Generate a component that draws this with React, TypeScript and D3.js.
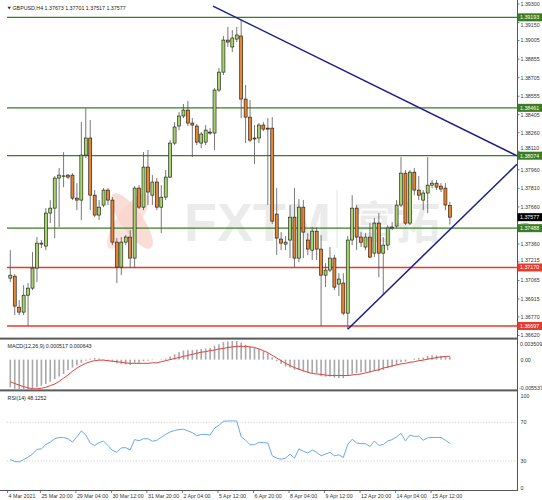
import React from 'react';
import * as d3 from 'd3';

// ---------- DATA (GBPUSD H4) ----------
const opens = [1.37084,1.37100,1.36849,1.36809,1.36946,1.37003,1.37165,1.37359,1.37343,1.37610,
1.37650,1.37893,1.37909,1.37917,1.37917,1.37731,1.37715,1.38079,1.38217,1.37755,
1.37594,1.37675,1.37796,1.37715,1.37375,1.37173,1.37375,1.37416,1.37246,1.37812,
1.37658,1.37982,1.37755,1.37861,1.37658,1.37739,1.37901,1.38176,1.38314,1.38395,
1.38443,1.38338,1.38314,1.38176,1.38184,1.38265,1.38257,1.38605,1.38750,1.39009,
1.38953,1.39017,1.39042,1.38532,1.38386,1.38217,1.38217,1.38322,1.38297,1.38297,
1.37602,1.37400,1.37359,1.37392,1.37577,1.37246,1.37658,1.37392,1.37310,1.37464,
1.37319,1.37108,1.37149,1.37246,1.37036,1.37044,1.36801,1.37392,1.37650,1.37416,
1.37335,1.37416,1.37286,1.37529,1.37286,1.37351,1.37489,1.37505,1.37675,1.37933,
1.37529,1.37941,1.37796,1.37715,1.37772,1.37836,1.37852,1.37828,1.37812,1.37673];
const highs = [1.37310,1.37116,1.36906,1.37027,1.37044,1.37294,1.37416,1.37392,1.37650,1.37715,
1.37909,1.37974,1.38103,1.37925,1.37933,1.37852,1.38346,1.38459,1.38362,1.37796,
1.37715,1.37812,1.37812,1.37739,1.37408,1.37416,1.37432,1.37472,1.37828,1.37836,
1.38103,1.38120,1.37917,1.37893,1.37836,1.37958,1.38200,1.38346,1.38427,1.38492,
1.38516,1.38378,1.38330,1.38265,1.38322,1.38297,1.38621,1.38783,1.39042,1.39115,
1.39090,1.39115,1.39171,1.38645,1.38524,1.38322,1.38338,1.38346,1.38378,1.38386,
1.37812,1.37456,1.37424,1.37675,1.37812,1.37723,1.37715,1.37448,1.37497,1.37497,
1.37432,1.37205,1.37335,1.37270,1.37124,1.37124,1.37424,1.37755,1.37675,1.37456,
1.37448,1.37529,1.37569,1.37610,1.37416,1.37513,1.37537,1.37715,1.38063,1.37958,
1.37958,1.37974,1.37909,1.37796,1.38063,1.37877,1.37877,1.37852,1.37852,1.37701];
const lows = [1.37052,1.36785,1.36785,1.36785,1.36697,1.36987,1.37052,1.37327,1.37310,1.37529,
1.37408,1.37497,1.37820,1.37885,1.37715,1.37634,1.37553,1.38055,1.37634,1.37577,
1.37553,1.37658,1.37675,1.37351,1.37044,1.37108,1.37351,1.37165,1.37165,1.37642,
1.37634,1.37675,1.37675,1.37634,1.37448,1.37715,1.37893,1.38160,1.38281,1.38378,
1.38314,1.38063,1.38160,1.38136,1.38160,1.38241,1.38120,1.38589,1.38726,1.38953,
1.38912,1.38993,1.38378,1.38176,1.38184,1.38006,1.38176,1.38273,1.37675,1.37521,
1.37270,1.37310,1.37310,1.37246,1.37173,1.37213,1.37246,1.37270,1.37230,1.37230,
1.36697,1.37011,1.37132,1.36987,1.36939,1.36785,1.36671,1.37351,1.37310,1.37335,
1.37310,1.37246,1.37254,1.37092,1.36946,1.37310,1.37472,1.37489,1.37658,1.37513,
1.37513,1.37755,1.37715,1.37634,1.37610,1.37812,1.37796,1.37780,1.37634,1.37517];
const closes = [1.37108,1.36858,1.36809,1.36946,1.37003,1.37165,1.37367,1.37367,1.37610,1.37650,
1.37893,1.37917,1.37911,1.37901,1.37731,1.37715,1.38079,1.38217,1.37755,1.37594,
1.37658,1.37796,1.37715,1.37375,1.37173,1.37375,1.37416,1.37246,1.37812,1.37658,
1.37982,1.37780,1.37861,1.37658,1.37739,1.37901,1.38176,1.38306,1.38395,1.38443,
1.38338,1.38322,1.38184,1.38249,1.38281,1.38257,1.38605,1.38750,1.39009,1.38993,
1.39026,1.39050,1.38532,1.38386,1.38200,1.38209,1.38322,1.38289,1.38289,1.37545,
1.37408,1.37367,1.37375,1.37577,1.37246,1.37658,1.37456,1.37319,1.37464,1.37319,
1.37108,1.37149,1.37246,1.37011,1.37076,1.36801,1.37392,1.37650,1.37416,1.37375,
1.37416,1.37254,1.37529,1.37286,1.37351,1.37489,1.37497,1.37675,1.37933,1.37529,
1.37941,1.37796,1.37755,1.37772,1.37836,1.37852,1.37820,1.37804,1.37675,1.37577];

const macdMain = [-0.0052,-0.0055,-0.0058,-0.0060,-0.0060,-0.0057,-0.0052,-0.0049,-0.0046,-0.0042,
-0.0037,-0.0032,-0.0027,-0.0020,-0.0015,-0.0011,-0.0006,-0.0002,0.0002,0.0003,
0.0002,0.0001,-0.0002,-0.0004,-0.0007,-0.0008,-0.0009,-0.0010,-0.0006,-0.0006,
-0.0003,-0.0002,-0.0001,0.0000,-0.0001,0.0002,0.0006,0.0010,0.0014,0.0017,
0.0018,0.0018,0.0019,0.0020,0.0021,0.0022,0.0026,0.0029,0.0033,0.0034,
0.0035,0.0035,0.0032,0.0028,0.0025,0.0022,0.0020,0.0016,0.0012,0.0004,
-0.0003,-0.0008,-0.0013,-0.0015,-0.0019,-0.0020,-0.0022,-0.0024,-0.0025,-0.0026,
-0.0031,-0.0032,-0.0032,-0.0034,-0.0035,-0.0035,-0.0031,-0.0027,-0.0025,-0.0024,
-0.0023,-0.0024,-0.0021,-0.0022,-0.0019,-0.0016,-0.0013,-0.0010,-0.0005,-0.0004,
0.0000,0.0002,0.0003,0.0004,0.0007,0.0008,0.0008,0.0007,0.0006,0.000517];
const macdSignal = [-0.0042,-0.0045,-0.0048,-0.0051,-0.0053,-0.0055,-0.0055,-0.0054,-0.0052,-0.0049,
-0.0046,-0.0041,-0.0035,-0.0029,-0.0022,-0.0016,-0.0011,-0.0007,-0.0004,-0.0002,
-0.0001,-0.0001,-0.0002,-0.0003,-0.0004,-0.0005,-0.0006,-0.0007,-0.0007,-0.0007,
-0.0007,-0.0007,-0.0006,-0.0006,-0.0004,-0.0002,0.0000,0.0002,0.0004,0.0006,
0.0008,0.0010,0.0012,0.0014,0.0015,0.0017,0.0018,0.0020,0.0021,0.0023,
0.0024,0.0025,0.0025,0.0025,0.0024,0.0023,0.0020,0.0017,0.0013,0.0008,
0.0003,-0.0002,-0.0007,-0.0011,-0.0015,-0.0018,-0.0021,-0.0024,-0.0026,-0.0027,
-0.0028,-0.0029,-0.0030,-0.0030,-0.0030,-0.0030,-0.0030,-0.0029,-0.0028,-0.0027,
-0.0025,-0.0023,-0.0021,-0.0019,-0.0016,-0.0014,-0.0012,-0.0010,-0.0008,-0.0007,
-0.0005,-0.0004,-0.0002,-0.0001,0.0001,0.0002,0.0004,0.0005,0.0006,0.000643];
const rsiValues = [31.5,29.5,29.0,31.5,34.0,37.0,42.0,42.5,47.0,49.5,
53.0,54.3,54.3,53.0,49.6,55.0,61.1,57.0,48.5,46.0,
49.0,50.4,46.1,41.0,39.0,43.5,43.8,41.4,52.1,51.0,
53.0,53.0,50.4,51.4,54.5,57.5,60.0,61.5,62.5,62.9,
61.1,59.3,56.1,57.5,57.5,56.8,63.9,67.0,71.0,71.4,
71.4,71.4,55.0,51.4,46.8,46.8,49.3,49.0,48.6,35.4,
32.9,31.8,32.9,37.1,32.9,42.5,40.0,38.2,41.4,38.9,
35.4,37.1,38.9,35.4,36.4,33.6,47.1,52.5,48.6,47.9,
47.9,45.0,50.7,46.1,47.1,50.7,52.1,55.0,58.6,50.7,
56.8,55.4,55.7,51.4,53.9,54.3,54.3,54.3,51.4,48.1252];

const priceTicks = [1.39300,1.39150,1.39005,1.38855,1.38705,1.38555,1.38405,1.38260,1.38110,
1.37960,1.37810,1.37660,1.37510,1.37360,1.37215,1.37065,1.36915,1.36770,1.36620];
const priceTickLabels = ['1.39300','1.39150','1.39005','1.38855','1.38705','1.38555','1.38405','1.38260','1.38110',
'1.37960','1.37810','1.37660','1.37510','1.37360','1.37215','1.37065','1.36915','1.36770','1.36620'];
const greenLevels = [1.39193, 1.38461, 1.38074, 1.37488];
const greenLevelLabels = ['1.39193', '1.38461', '1.38074', '1.37488'];
const redLevels = [1.37170, 1.36697];
const redLevelLabels = ['1.37170', '1.36697'];
const lastPrice = 1.37577;
const lastPriceLabel = '1.37577';
const downTrendBars = [45.65, 114.1];
const downTrendPrices = [1.39284, 1.38074];
const upTrendBars = [76, 114.1];
const upTrendPrices = [1.36671, 1.38005];

const timeLabelBars = [7, 15, 23, 31, 39, 47, 55, 63, 71, 79, 87, 95];
const timeLabels = ['25 Mar 20:00','29 Mar 04:00','30 Mar 12:00','31 Mar 20:00','2 Apr 04:00','5 Apr 12:00',
'6 Apr 20:00','8 Apr 04:00','9 Apr 12:00','12 Apr 20:00','14 Apr 04:00','15 Apr 12:00'];
const firstDateLabel = '4 Mar 2021';
const macdRange = [-0.005537, 0.003509];
const macdLabels = ['0.003509', '0.00', '-0.005537'];
const rsiLevels = [70, 30];
const headerMain = 'GBPUSD,H4  1.37673 1.37701 1.37517 1.37577';
const headerMacd = 'MACD(12,26,9) 0.000517 0.000643';
const headerRsi = 'RSI(14) 48.1252';

// ---------- LAYOUT ----------
const W = 542, H = 500;
const L = 7, R = 517;
const MAIN_T = 4, MAIN_B = 337;
const MACD_T = 340, MACD_B = 389;
const RSI_T = 393.3, RSI_B = 490;
const FONT = 'Liberation Sans, Arial, sans-serif';
const FS = 5.3;
const BOX_H = 8;

export default function App() {
  const n = closes.length;
  const x = d3.scaleLinear().domain([0, n - 1]).range([10.3, 10.3 + 4.44 * (n - 1)]);
  const y = d3.scaleLinear().domain([1.36620, 1.39300]).range([335.5, 4.1]);
  const ym = d3.scaleLinear().domain(macdRange).range([389, 341]);
  const yr = d3.scaleLinear().domain([0, 100]).range([RSI_B, RSI_T]);

  const bull = '#a5d46a', bear = '#e8842f', green = '#3b7d23', red = '#e63b2e', navy = '#1c1c8a';

  const sigLine = d3.line<number>().x((_, i) => x(i)).y(d => ym(d))(macdSignal) || '';
  const rsiLine = d3.line<number>().x((_, i) => x(i)).y(d => yr(d))(rsiValues) || '';

  const bw = 3;

  // level boxes on the axis; a tick label that collides with a box is moved to the nearest free gap,
  // and shrunk if that gap is narrower than the label.
  const boxes = [...greenLevels, ...redLevels, lastPrice].map(p => y(p)).sort((a, b) => a - b);
  const tickPlace = (p: number) => {
    const ty = y(p);
    const half = FS * 0.62;
    const hit = boxes.some(by => Math.abs(ty - by) < BOX_H / 2 + half);
    if (!hit) return { cy: ty, fs: FS };
    // free gaps between boxes
    const gaps: { a: number; b: number }[] = [];
    let prev = 0;
    for (const by of boxes) {
      gaps.push({ a: prev, b: by - BOX_H / 2 });
      prev = by + BOX_H / 2;
    }
    gaps.push({ a: prev, b: MAIN_B });
    let best = gaps[0], bestD = Infinity;
    for (const g of gaps) {
      if (g.b - g.a < 1.5) continue;
      const c = Math.min(Math.max(ty, g.a + Math.min(half, (g.b - g.a) / 2)), g.b - Math.min(half, (g.b - g.a) / 2));
      const d = Math.abs(c - ty);
      if (d < bestD) { bestD = d; best = g; }
    }
    const room = best.b - best.a;
    const fs = Math.min(FS, (room - 0.3) / 1.24);
    const h2 = fs * 0.62;
    const cy = Math.min(Math.max(ty, best.a + h2), best.b - h2);
    return { cy, fs };
  };

  const levelBox = (p: number, label: string, color: string, key: string) => (
    <g key={key}>
      <rect x={R + 0.5} y={y(p) - BOX_H / 2} width={W - R - 0.5} height={BOX_H} fill={color} />
      <text x={R + 3} y={y(p) + 1.9} fontSize={FS} fill="#fff" fontFamily={FONT}>{label}</text>
    </g>
  );

  return (
    <svg width={W} height={H} style={{ position: 'absolute', left: 0, top: 0, background: '#fff' }}
      xmlns="http://www.w3.org/2000/svg">
      <defs>
        <clipPath id="mainClip"><rect x={L} y={MAIN_T} width={R - L} height={MAIN_B - MAIN_T} /></clipPath>
        <clipPath id="macdClip"><rect x={L} y={MACD_T} width={R - L} height={MACD_B - MACD_T} /></clipPath>
      </defs>
      <rect x={0} y={0} width={W} height={H} fill="#fff" />

      {/* watermark */}
      <g>
        <ellipse cx={128} cy={221} rx={11} ry={33} fill="#fbe3dd" transform="rotate(35 128 221)" />
        <ellipse cx={132} cy={221} rx={11} ry={33} fill="#f8d2c8" opacity={0.75} transform="rotate(-35 132 221)" />
        <text x={184} y={241} fontSize={54} fontWeight="bold" fill="#ebebeb" fontFamily={FONT}>FXTM</text>
        <line x1={337} x2={337} y1={190} y2={248} stroke="#ececec" strokeWidth={1.5} />
        <text x={352} y={239} fontSize={44} fontWeight="bold" fill="#ebebeb"
          fontFamily="Noto Sans CJK SC, sans-serif">富拓</text>
      </g>

      {/* main panel */}
      <g clipPath="url(#mainClip)">
        {greenLevels.map((p, i) => (
          <line key={'g' + i} x1={L} x2={R} y1={y(p)} y2={y(p)} stroke={green} strokeWidth={1.3} />
        ))}
        {redLevels.map((p, i) => (
          <line key={'r' + i} x1={L} x2={R} y1={y(p)} y2={y(p)} stroke={red} strokeWidth={1.3} />
        ))}
        {closes.map((c, i) => {
          const o = opens[i];
          const up = c >= o;
          const top = y(Math.max(o, c));
          const bot = y(Math.min(o, c));
          const cx = x(i);
          return (
            <g key={'c' + i}>
              <line x1={cx} x2={cx} y1={y(highs[i])} y2={y(lows[i])} stroke="#555" strokeWidth={0.8} />
              <rect x={cx - bw / 2} y={top} width={bw} height={Math.max(bot - top, 0.6)}
                fill={up ? bull : bear} stroke="#111" strokeWidth={0.6} />
            </g>
          );
        })}
        <line x1={x(downTrendBars[0])} y1={y(downTrendPrices[0])} x2={x(downTrendBars[1])} y2={y(downTrendPrices[1])}
          stroke={navy} strokeWidth={1.5} />
        <line x1={x(upTrendBars[0])} y1={y(upTrendPrices[0])} x2={x(upTrendBars[1])} y2={y(upTrendPrices[1])}
          stroke={navy} strokeWidth={1.5} />
      </g>

      {/* main header */}
      <path d="M7.5,6.8 L11,6.8 L9.25,9.6 Z" fill="#333" />
      <text x={12.5} y={9.8} fontSize={FS} fill="#222" fontFamily={FONT}>{headerMain}</text>

      {/* right price axis */}
      <line x1={R + 0.5} x2={R + 0.5} y1={0} y2={RSI_B + 1} stroke="#555" strokeWidth={1} />
      {priceTicks.map((p, i) => {
        const t = tickPlace(p);
        return (
          <g key={'t' + i}>
            <line x1={R} x2={R + 2.5} y1={y(p)} y2={y(p)} stroke="#555" strokeWidth={0.8} />
            <text x={R + 3.5} y={t.cy + t.fs * 0.36} fontSize={t.fs} fill="#333" fontFamily={FONT}>{priceTickLabels[i]}</text>
          </g>
        );
      })}
      {greenLevels.map((p, i) => levelBox(p, greenLevelLabels[i], green, 'gb' + i))}
      {redLevels.map((p, i) => levelBox(p, redLevelLabels[i], red, 'rb' + i))}
      {levelBox(lastPrice, lastPriceLabel, '#000', 'last')}

      {/* separators */}
      <rect x={0} y={337.6} width={R} height={2} fill="#5a5a5a" />
      <rect x={0} y={389.4} width={R} height={2} fill="#5a5a5a" />

      {/* MACD */}
      <g clipPath="url(#macdClip)">
        {macdMain.map((v, i) => (
          <rect key={'h' + i} x={x(i) - 0.8} y={Math.min(ym(v), ym(0))} width={1.6}
            height={Math.abs(ym(v) - ym(0))} fill="#a8a8a8" />
        ))}
        <path d={sigLine} fill="none" stroke="#e0403a" strokeWidth={1} />
      </g>
      <text x={7.6} y={347.5} fontSize={FS} fill="#222" fontFamily={FONT}>{headerMacd}</text>
      <text x={R + 3} y={345.5} fontSize={FS} fill="#333" fontFamily={FONT}>{macdLabels[0]}</text>
      <text x={R + 3.5} y={ym(0) + 2.5} fontSize={FS} fill="#333" fontFamily={FONT}>{macdLabels[1]}</text>
      <text x={R + 2} y={389.5} fontSize={FS} fill="#333" fontFamily={FONT}>{macdLabels[2]}</text>

      {/* RSI */}
      {rsiLevels.map((v, i) => (
        <line key={'rl' + i} x1={L} x2={R} y1={yr(v)} y2={yr(v)} stroke="#c4c4c4" strokeWidth={0.8}
          strokeDasharray="1.2,1.6" />
      ))}
      <path d={rsiLine} fill="none" stroke="#6aa9e9" strokeWidth={1} />
      <text x={7.6} y={399.5} fontSize={FS} fill="#222" fontFamily={FONT}>{headerRsi}</text>
      <text x={R + 3.5} y={yr(100) + 4.5} fontSize={FS} fill="#333" fontFamily={FONT}>100</text>
      {rsiLevels.map((v, i) => (
        <text key={'rt' + i} x={R + 3.5} y={yr(v) + 1.9} fontSize={FS} fill="#333" fontFamily={FONT}>{v}</text>
      ))}
      <text x={R + 3.5} y={yr(0) - 0.5} fontSize={FS} fill="#333" fontFamily={FONT}>0</text>

      {/* time axis */}
      <line x1={0} x2={R + 0.5} y1={RSI_B + 0.5} y2={RSI_B + 0.5} stroke="#555" strokeWidth={1} />
      <line x1={7.6} x2={7.6} y1={RSI_B} y2={RSI_B + 3} stroke="#555" strokeWidth={0.8} />
      <text x={8.6} y={498.3} fontSize={FS} fill="#333" fontFamily={FONT}>{firstDateLabel}</text>
      {timeLabelBars.map((b, i) => (
        <g key={'tl' + i}>
          <line x1={x(b) - 1} x2={x(b) - 1} y1={RSI_B} y2={RSI_B + 3} stroke="#555" strokeWidth={0.8} />
          <text x={x(b)} y={498.3} fontSize={FS} fill="#333" fontFamily={FONT}>{timeLabels[i]}</text>
        </g>
      ))}
    </svg>
  );
}
